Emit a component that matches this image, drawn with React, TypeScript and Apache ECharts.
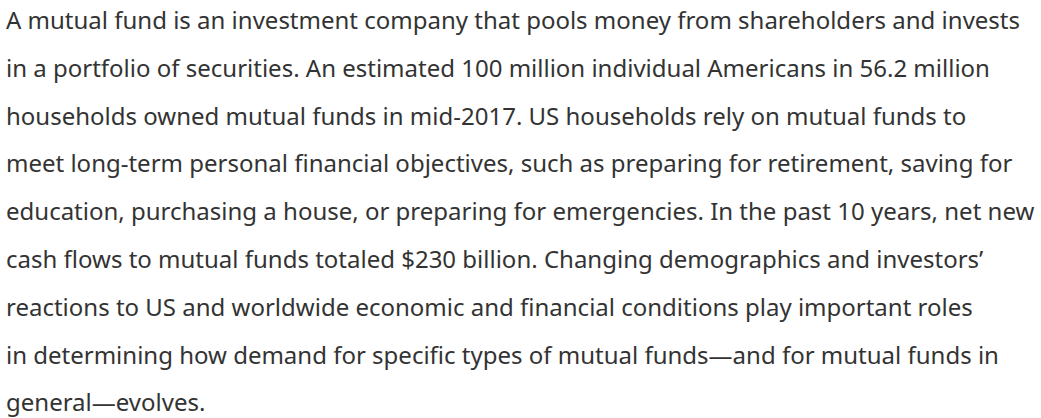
import React, { useEffect, useRef } from "react";
import * as echarts from "echarts";

const paragraphLines: string[] = [
  "A mutual fund is an investment company that pools money from shareholders and invests",
  "in a portfolio of securities. An estimated 100 million individual Americans in 56.2 million",
  "households owned mutual funds in mid-2017. US households rely on mutual funds to",
  "meet long-term personal financial objectives, such as preparing for retirement, saving for",
  "education, purchasing a house, or preparing for emergencies. In the past 10 years, net new",
  "cash flows to mutual funds totaled $230 billion. Changing demographics and investors\u2019",
  "reactions to US and worldwide economic and financial conditions play important roles",
  "in determining how demand for specific types of mutual funds\u2014and for mutual funds in",
  "general\u2014evolves.",
];

const W = 1041;
const H = 418;

export default function App() {
  const ref = useRef<HTMLDivElement>(null);
  useEffect(() => {
    document.body.style.margin = "0";
    if (!ref.current) return;
    const chart = echarts.init(ref.current, null, { renderer: "svg" });
    const top = 19.5;
    const pitch = 47.8;
    chart.setOption({
      animation: false,
      backgroundColor: "#ffffff",
      graphic: paragraphLines.map((t, i) => ({
        type: "text",
        x: 6,
        y: top + i * pitch,
        style: {
          text: t,
          fill: "#333333",
          font: "24px 'Noto Sans'",
          verticalAlign: "middle",
          align: "left",
        },
      })),
    });
    return () => chart.dispose();
  }, []);
  return <div ref={ref} style={{ width: W, height: H }} />;
}
